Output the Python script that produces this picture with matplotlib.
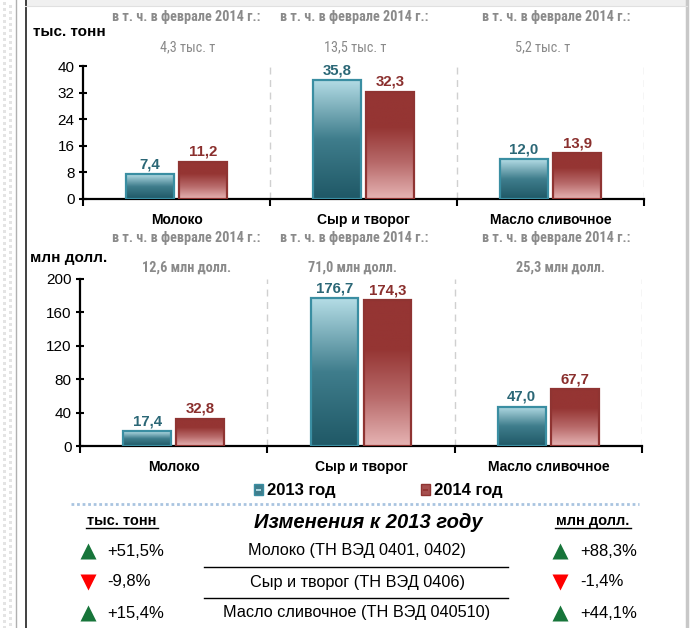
import numpy as np
import matplotlib
matplotlib.use("Agg")
import matplotlib.pyplot as plt
from matplotlib.colors import LinearSegmentedColormap
from matplotlib.patches import Rectangle

# ---------------- data ----------------
categories = ["Молоко", "Сыр и творог", "Масло сливочное"]
series_names = ["2013 год", "2014 год"]
tonnes_2013 = [7.4, 35.8, 12.0]
tonnes_2014 = [11.2, 32.3, 13.9]
usd_2013 = [17.4, 176.7, 47.0]
usd_2014 = [32.8, 174.3, 67.7]
feb_note = "в т. ч. в феврале 2014 г.:"
feb_tonnes = ["4,3 тыс. т", "13,5 тыс. т", "5,2 тыс. т"]
feb_usd = ["12,6 млн долл.", "71,0 млн долл.", "25,3 млн долл."]
tonnes_ticks = [0, 8, 16, 24, 32, 40]
usd_ticks = [0, 40, 80, 120, 160, 200]
table_rows = ["Молоко (ТН ВЭД 0401, 0402)", "Сыр и творог (ТН ВЭД 0406)",
              "Масло сливочное (ТН ВЭД 040510)"]
change_tonnes = [51.5, -9.8, 15.4]
change_usd = [88.3, -1.4, 44.1]

# ---------------- style ----------------
NARROW = ["Roboto Condensed", "Liberation Sans", "DejaVu Sans"]
plt.rcParams["font.family"] = ["Liberation Sans", "DejaVu Sans"]

W, H = 692, 628
fig = plt.figure(figsize=(W / 100, H / 100), dpi=100)
fig.patch.set_facecolor("white")

teal_cmap = LinearSegmentedColormap.from_list("teal", ["#1f5866", "#3f7d8c", "#b5dde6"])
red_cmap = LinearSegmentedColormap.from_list("red", ["#e6b4b4", "#b86a6a", "#953533", "#953533"])
TEAL_EDGE = "#3a8ea2"
RED_EDGE = "#8f3432"
TEAL_TXT = "#2b6776"
RED_TXT = "#8a2f2d"
GRAY_TXT = "#8a8a8a"


def px_axes(l, t, r, b):
    return fig.add_axes([l / W, 1 - b / H, (r - l) / W, (b - t) / H])


def draw_panel(ax, v13, v14, ticks, vmax):
    n = len(categories)
    x = np.arange(n)
    bw = 0.255
    off = 0.142
    grad = np.linspace(0, 1, 256).reshape(-1, 1)
    for vals, sgn, cmap, edge, tc in [(v13, -1, teal_cmap, TEAL_EDGE, TEAL_TXT),
                                      (v14, 1, red_cmap, RED_EDGE, RED_TXT)]:
        bars = ax.bar(x + sgn * off, vals, width=bw, facecolor="none",
                      edgecolor=edge, linewidth=1.6, zorder=4)
        for b, v in zip(bars, vals):
            x0, w = b.get_x(), b.get_width()
            im = ax.imshow(grad, extent=[x0, x0 + w, 0, v], origin="lower",
                           aspect="auto", cmap=cmap, zorder=3)
            im.set_clip_path(b)
            ax.annotate(f"{v:.1f}".replace(".", ","), (x0 + w / 2, v),
                        xytext=(0, 2), textcoords="offset points",
                        ha="center", va="bottom", fontsize=10.8,
                        fontweight="bold", color=tc, zorder=5)
    ax.set_xlim(-0.5, n - 0.5)
    ax.set_ylim(0, vmax)
    ax.set_yticks(ticks)
    ax.set_yticklabels([str(t) for t in ticks], fontsize=11)
    ax.set_xticks(np.arange(n + 1) - 0.5)
    ax.set_xticklabels([])
    ax.tick_params(axis="y", direction="inout", length=6, width=1.5, pad=3)
    ax.tick_params(axis="x", direction="out", length=5, width=1.5)
    for s in ["top", "right"]:
        ax.spines[s].set_visible(False)
    for s in ["left", "bottom"]:
        ax.spines[s].set_linewidth(1.6)
        ax.spines[s].set_color("black")
    for i in range(1, n + 1):
        ax.axvline(i - 0.5, color="#d0d0d0", lw=1.0, ls=(0, (5, 4)), zorder=1)
    ax.set_facecolor("none")


def draw_cats(ax, ypx):
    for i, c in enumerate(categories):
        xd = ax.transData.transform((i, 0))[0]
        top.text(xd, ypx, c, ha="center", va="center", fontsize=10,
                 fontweight="bold")


ax1 = px_axes(83, 66, 644, 199)
draw_panel(ax1, tonnes_2013, tonnes_2014, tonnes_ticks, 40)
ax2 = px_axes(80, 279, 642, 446)
draw_panel(ax2, usd_2013, usd_2014, usd_ticks, 200)

# overlays in pixel coordinates
ov = fig.add_axes([0, 0, 1, 1], zorder=-1)
ov.set_xlim(0, W)
ov.set_ylim(H, 0)
ov.axis("off")

top = fig.add_axes([0, 0, 1, 1], zorder=10)
top.set_xlim(0, W)
top.set_ylim(H, 0)
top.axis("off")
top.patch.set_alpha(0)

draw_cats(ax1, 220)
draw_cats(ax2, 467)

# page frame decorations
for yy in np.arange(2, H, 6):
    ov.add_patch(Rectangle((3, yy), 3, 3, color="#e4e4e4", lw=0))
    ov.add_patch(Rectangle((9, yy + 3), 3, 3, color="#e4e4e4", lw=0))
ov.add_patch(Rectangle((25, 0), 662, 6, color="#f0f0f0", lw=0))
ov.plot([16, 16], [0, H], color="#b0b0b0", lw=1.0)
ov.plot([25.5, 25.5], [0, H], color="#202020", lw=1.2)
ov.plot([687, 687], [0, H], color="#c8c8c8", lw=2.5)
ov.plot([25, 687], [6, 6], color="#e0e0e0", lw=0.8)

# units
top.text(33, 32, "тыс. тонн", fontsize=11, fontweight="bold", va="center")
top.text(30, 258, "млн долл.", fontsize=11, fontweight="bold", va="center")

# february notes
note_cx = [186, 354, 556]
val_cx = [[188, 355, 543], [187, 352, 560]]
for j, (yy1, yy2, labels) in enumerate([(17, 47, feb_tonnes), (238, 268, feb_usd)]):
    for i in range(3):
        top.text(note_cx[i], yy1, feb_note, fontsize=10.3,
                 fontweight="bold", color=GRAY_TXT, ha="center", va="center",
                 family=NARROW)
        top.text(val_cx[j][i], yy2, labels[i], fontsize=10.3,
                 fontweight="bold" if j == 1 else "normal", color=GRAY_TXT,
                 ha="center", va="center", family=NARROW)

# legend
for (lx, name, cmap, edge) in [(258, series_names[0], teal_cmap, TEAL_EDGE),
                               (425, series_names[1], red_cmap, RED_EDGE)]:
    top.add_patch(Rectangle((lx - 4, 484), 9, 11, facecolor=cmap(0.5),
                            edgecolor=edge, lw=1.0))
    top.add_patch(Rectangle((lx - 2, 488.5), 5, 2, facecolor=cmap(0.95),
                            edgecolor="none", lw=0))
    top.text(lx + 9, 490, name, fontsize=12, fontweight="bold", va="center")

# dotted separator
top.plot([71, 639], [504, 504], color="#a9c4e0", lw=2.0, ls=(0, (1, 1)))

# table
top.text(122, 521, "тыс. тонн", fontsize=10.5, fontweight="bold", ha="center",
         va="center")
top.plot([86, 158], [528, 528], color="black", lw=1.0)
top.text(593, 521, "млн долл.", fontsize=10.5, fontweight="bold", ha="center",
         va="center")
top.plot([555, 631], [528, 528], color="black", lw=1.0)
top.text(368, 523, "Изменения к 2013 году", fontsize=14.5, fontweight="bold",
         style="italic", ha="center", va="center")
row_y = [551, 582, 613]
for i, yy in enumerate(row_y):
    top.text(357, yy, table_rows[i], fontsize=11.7, ha="center", va="center")
    for cx, val in [(87.5, change_tonnes[i]), (560, change_usd[i])]:
        up = val > 0
        top.plot(cx, yy, marker="^" if up else "v", markersize=11,
                 color="#17753a" if up else "#ff0000", mec="none")
        top.text(cx + 20, yy, f"{val:+.1f}%".replace(".", ","), fontsize=12,
                 ha="left", va="center")
for yy in [567, 598]:
    top.plot([204, 508], [yy, yy], color="black", lw=1.0)

fig.savefig("out.png", dpi=100)
